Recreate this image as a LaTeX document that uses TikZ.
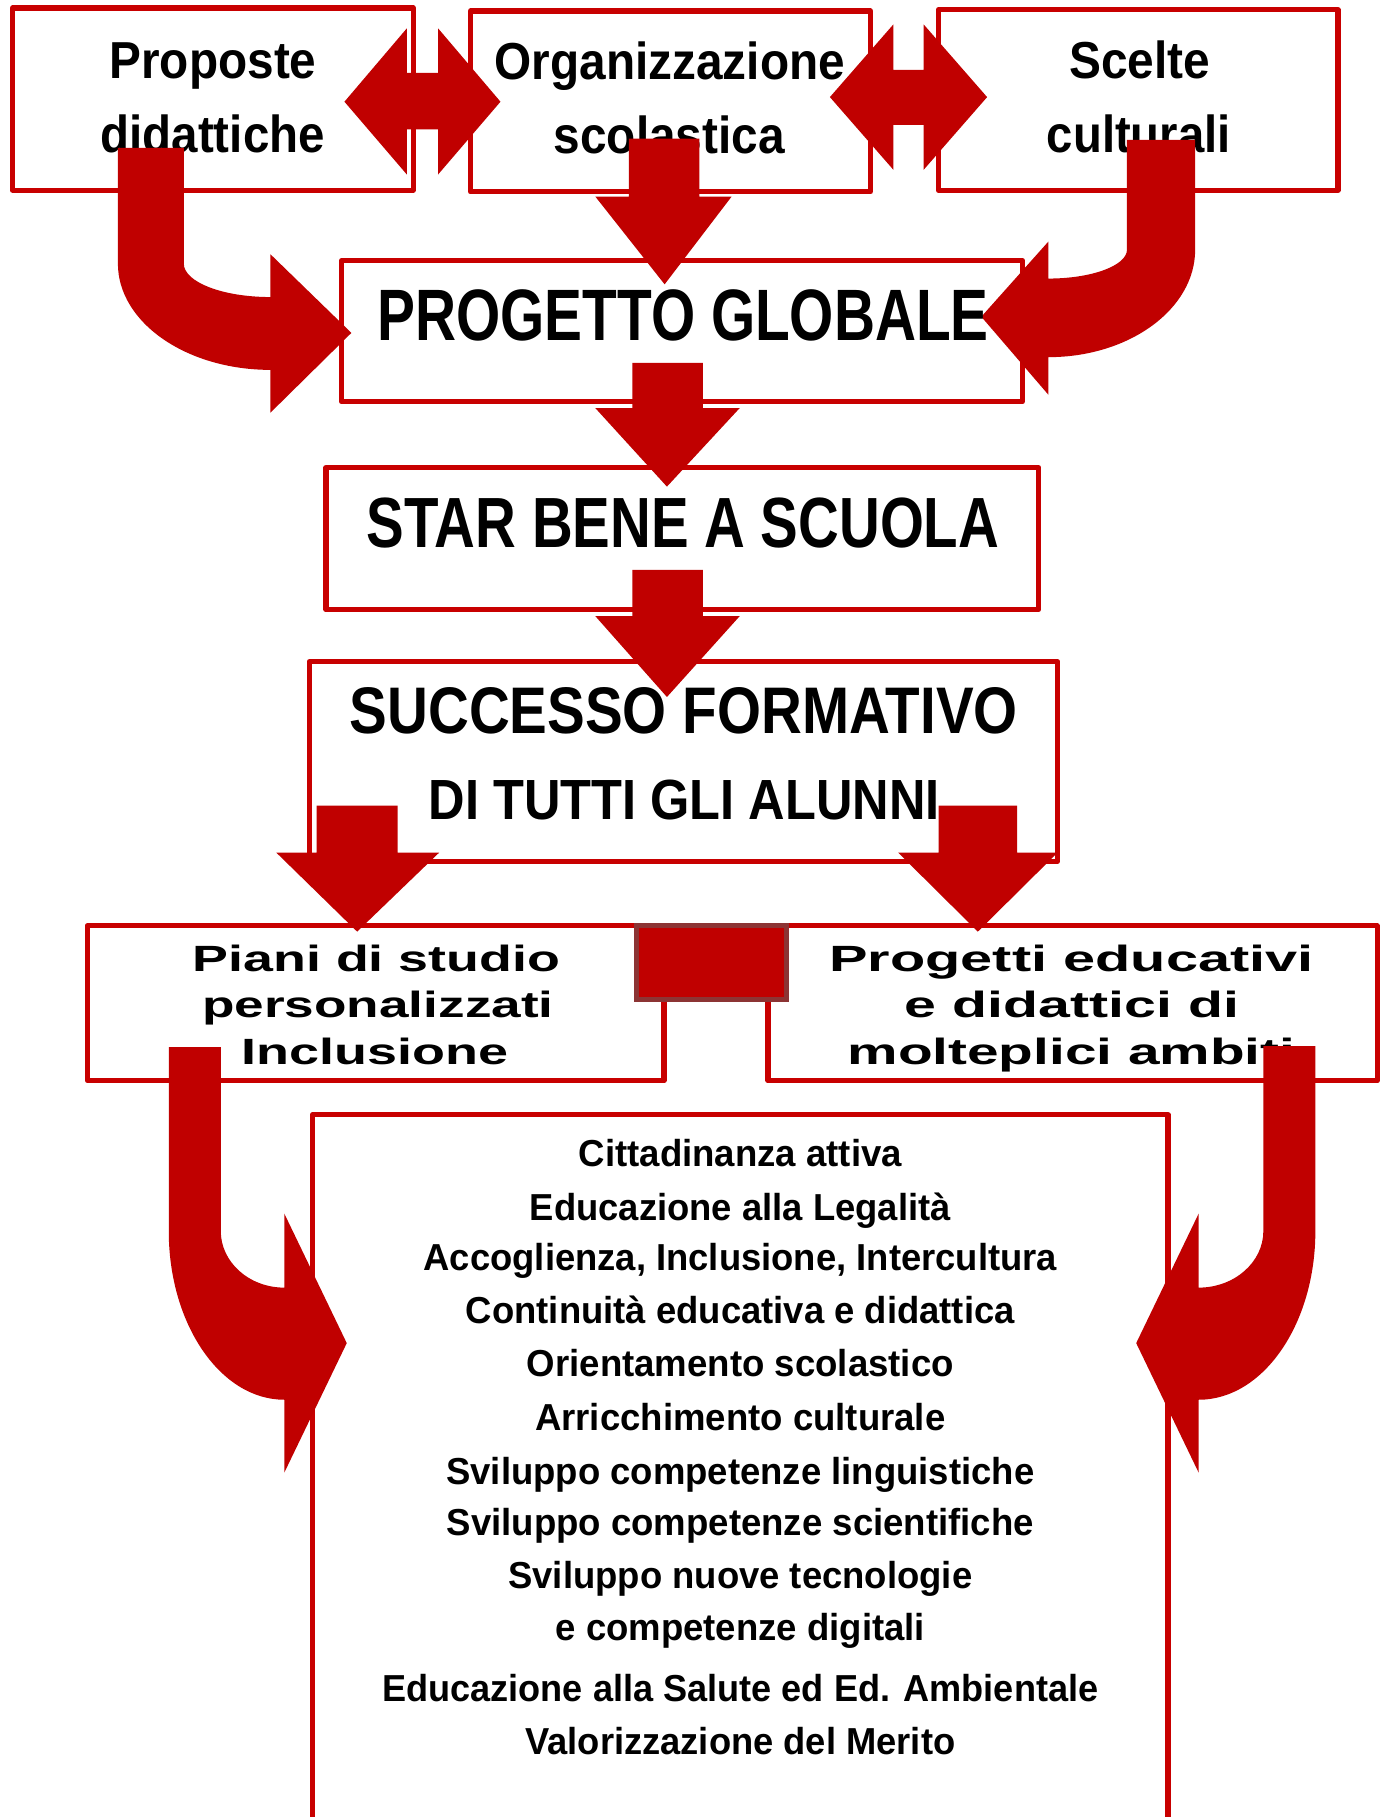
\documentclass[tikz,border=0pt]{standalone}
\usepackage{fontspec}
\setmainfont{Liberation Sans}
\usepackage{graphicx}
\definecolor{arr}{RGB}{192,0,0}
\definecolor{brd}{RGB}{200,0,0}
\definecolor{sqb}{RGB}{140,52,52}
\newcommand{\fitw}[2]{\resizebox{#1pt}{\height}{#2}}
\begin{document}
\begin{tikzpicture}[x=1pt,y=-1pt,
  box/.style={draw=brd, line width=4.5pt, rectangle, inner sep=0pt, line join=round},
  txt/.style={inner sep=0pt, anchor=base, text=black},
  topf/.style={font=\fontsize{45}{50}\selectfont\bfseries},
  midf/.style={font=\fontsize{31.6}{36}\selectfont\bfseries},
  listf/.style={font=\fontsize{32.5}{36}\selectfont\bfseries},
  blk/.style={fill=arr, draw=none}]
\useasboundingbox (0,0) rectangle (1200,1572);
\clip (0,0) rectangle (1200,1572);
\fill[white] (0,0) rectangle (1200,1572);

% boxes
\node[box, minimum width=346.5pt, minimum height=157.5pt] (b1) at (184.25,85.75) {};
\node[box, minimum width=346pt, minimum height=156.5pt] (b2) at (580,87.75) {};
\node[box, minimum width=345.5pt, minimum height=156pt] (b3) at (984.75,86.5) {};
\node[box, minimum width=589pt, minimum height=122pt] (prog) at (590,286.5) {};
\node[box, minimum width=616.5pt, minimum height=123pt] (star) at (590.25,466) {};
\node[box, minimum width=647.5pt, minimum height=172.5pt] (succ) at (591.25,658.75) {};
\node[box, minimum width=499pt, minimum height=134pt] (piani) at (325,868) {};
\node[box, minimum width=527pt, minimum height=134pt] (proge) at (928,868) {};
\coordinate (bigbl) at (270.5,1600);
\coordinate (bigtl) at (270.5,964.5);
\coordinate (bigtr) at (1010.5,964.5);
\coordinate (bigbr) at (1010.5,1600);
\draw[draw=brd, line width=4.5pt, line join=round] (bigbl) -- (bigtl) -- (bigtr) -- (bigbr);
\node[draw=sqb, fill=arr, line width=4.5pt, minimum width=130pt, minimum height=63.5pt, inner sep=0pt] (sq) at (615.5,832.75) {};

% texts under arrows
\node[txt,topf] (t1a) at (184.3,68) {\fitw{179}{Proposte}};
\node[txt,topf] (t1b) at (184,132) {\fitw{194}{didattiche}};
\node[txt,topf] (t2a) at (579.5,69) {\fitw{303}{Organizzazione}};
\node[txt,topf] (t2b) at (579,133) {\fitw{200}{scolastica}};
\node[txt,topf] (t3a) at (986,67.7) {\fitw{122}{Scelte}};
\node[txt,topf] (t3b) at (985.3,132) {\fitw{159}{culturali}};

\node[txt,font=\fontsize{61.5}{66}\selectfont\bfseries] (tstar) at (591,474) {\fitw{547}{STAR BENE A SCUOLA}};
\node[txt,font=\fontsize{49}{54}\selectfont\bfseries] (tdi) at (592,709) {\fitw{442}{DI TUTTI GLI ALUNNI}};

\node[txt,midf] (p1) at (325.7,840.6) {\fitw{318}{Piani di studio}};
\node[txt,midf] (p2) at (327,880.5) {\fitw{304}{personalizzati}};
\node[txt,midf] (p3) at (324.4,921.3) {\fitw{230.7}{Inclusione}};
\node[txt,midf] (q1) at (927,840.6) {\fitw{419}{Progetti educativi}};
\node[txt,midf] (q2) at (927.4,880.5) {\fitw{289}{e didattici di}};
\node[txt,midf] (q3) at (927,921.3) {\fitw{387.4}{molteplici ambiti}};

\node[txt,listf] (l1) at (640.5,1009) {\fitw{279.6}{Cittadinanza attiva}};
\node[txt,listf] (l2) at (640.5,1055.8) {\fitw{364}{Educazione alla Legalità}};
\node[txt,listf] (l3) at (640.5,1099.5) {\fitw{548}{Accoglienza, Inclusione, Intercultura}};
\node[txt,listf] (l4) at (640.5,1144.7) {\fitw{474.7}{Continuità educativa e didattica}};
\node[txt,listf] (l5) at (640.5,1191.1) {\fitw{369.5}{Orientamento scolastico}};
\node[txt,listf] (l6) at (640.5,1237.2) {\fitw{355}{Arricchimento culturale}};
\node[txt,listf] (l7) at (640.5,1283.9) {\fitw{508.8}{Sviluppo competenze linguistiche}};
\node[txt,listf] (l8) at (640.5,1328.7) {\fitw{508}{Sviluppo competenze scientifiche}};
\node[txt,listf] (l9) at (640.5,1374.4) {\fitw{401.5}{Sviluppo nuove tecnologie}};
\node[txt,listf] (l10) at (640.5,1419.6) {\fitw{319.5}{e competenze digitali}};
\node[txt,listf] (l11) at (640.5,1471.9) {\fitw{619.5}{Educazione alla Salute ed Ed. Ambientale}};
\node[txt,listf] (l12) at (640.5,1517.9) {\fitw{372}{Valorizzazione del Merito}};

% double arrows between top boxes
\fill[blk] (298,88) -- (352,24.5) -- (352,63) -- (379,63) -- (379,24.5) -- (433,88)
  -- (379,151) -- (379,112) -- (352,112) -- (352,151) -- cycle;
\fill[blk] (718,84) -- (773,21) -- (773,60.5) -- (799,60.5) -- (799,21) -- (854,84)
  -- (799,147) -- (799,108) -- (773,108) -- (773,147) -- cycle;

% down arrow from Organizzazione
\fill[blk] (544,120) -- (605,120) -- (605,170) -- (633,170) -- (575,246) -- (515,170) -- (544,170) -- cycle;

% curved arrow from Proposte
\fill[blk] (102,128) -- (159,128) -- (159,228)
  .. controls (159,244) and (192.6,257) .. (234,257)
  -- (234,220) -- (304,288) -- (234,357) -- (234,320)
  .. controls (161.1,320) and (102,278.8) .. (102,228) -- cycle;

% curved arrow from Scelte
\fill[blk] (975,121) -- (1034,121) -- (1034,216)
  .. controls (1034,267.3) and (977.1,309) .. (907,309)
  -- (907,341.5) -- (849,274) -- (907,209) -- (907,241)
  .. controls (944.5,241) and (975,229.8) .. (975,216) -- cycle;

% down arrows in the middle
\fill[blk] (547,314) -- (608,314) -- (608,353) -- (640,353) -- (577,421) -- (515,353) -- (547,353) -- cycle;
\fill[blk] (547,493) -- (608,493) -- (608,533) -- (640,533) -- (577,603) -- (515,533) -- (547,533) -- cycle;

% arrows from Successo
\fill[blk] (274,697) -- (344,697) -- (344,737.6) -- (380,737.6) -- (309,806) -- (239,737.6) -- (274,737.6) -- cycle;
\fill[blk] (812,697) -- (880,697) -- (880,737.6) -- (915,737.6) -- (846,806) -- (777,737.6) -- (812,737.6) -- cycle;

% bottom curved arrows
\fill[blk] (146,906) -- (191,906) -- (191,1065)
  .. controls (191,1092) and (215.6,1114) .. (246,1114)
  -- (246,1050) -- (300,1162) -- (246,1274) -- (246,1211)
  .. controls (190.8,1211) and (146,1145.6) .. (146,1065) -- cycle;
\fill[blk] (1138,905) -- (1093,905) -- (1093,1065)
  .. controls (1093,1092) and (1067.9,1114) .. (1037,1114)
  -- (1037,1050) -- (983,1162) -- (1037,1274) -- (1037,1211)
  .. controls (1092.8,1211) and (1138,1145.6) .. (1138,1065) -- cycle;

% texts over arrows
\node[txt,font=\fontsize{63}{68}\selectfont\bfseries] (tprog) at (591,295) {\fitw{529}{PROGETTO GLOBALE}};
\node[txt,font=\fontsize{57}{62}\selectfont\bfseries] (tsucc) at (591.5,635) {\fitw{578}{SUCCESSO FORMATIVO}};
\end{tikzpicture}
\end{document}
